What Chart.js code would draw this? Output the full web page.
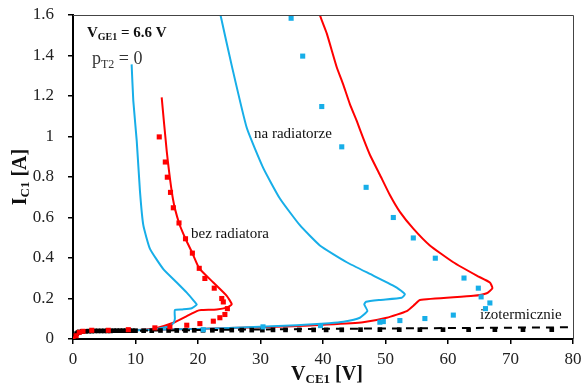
<!DOCTYPE html>
<html>
<head>
<meta charset="utf-8">
<script src="https://cdn.jsdelivr.net/npm/chart.js@4.4.1/dist/chart.umd.min.js"></script>
<style>
  html, body { margin: 0; padding: 0; background: #fff; }
  #wrap { width: 582px; height: 385px; }
</style>
</head>
<body>
<div id="wrap"><canvas id="myChart" width="582" height="385"></canvas></div>
<script>
// axis ticks
var xTicks = [0, 10, 20, 30, 40, 50, 60, 70, 80];
var yTicks = [0, 0.2, 0.4, 0.6, 0.8, 1, 1.2, 1.4, 1.6];

// simulation - bez radiatora (blue)
var bezBlueV = [0, 0.3, 0.6, 1, 2, 5, 8, 10.2, 12, 13.4, 14.8, 15.5, 16.1, 16.3, 16.3, 17.5, 19, 19.8, 19.3, 18.2, 16.6, 14.45, 12.32, 11.25, 10.72, 10.2, 9.65, 9.38];
var bezBlueI = [0, 0.015, 0.03, 0.038, 0.04, 0.041, 0.042, 0.043, 0.046, 0.05, 0.058, 0.063, 0.08, 0.1, 0.143, 0.146, 0.152, 0.17, 0.19, 0.229, 0.279, 0.345, 0.445, 0.562, 0.728, 0.977, 1.176, 1.356];

// simulation - bez radiatora (red)
var bezRedV = [0, 0.3, 0.6, 1, 2, 5, 8, 10.7, 13.4, 16.05, 18.2, 19.8, 20.5, 23, 24.6, 25.4, 24.6, 22.45, 20.2, 19.1, 18.0, 16.96, 16.0, 15.0, 14.19];
var bezRedI = [0, 0.015, 0.03, 0.038, 0.04, 0.041, 0.042, 0.044, 0.055, 0.08, 0.113, 0.138, 0.143, 0.146, 0.155, 0.171, 0.213, 0.279, 0.349, 0.424, 0.495, 0.573, 0.69, 0.927, 1.193];

// simulation - na radiatorze (blue)
var naBlueV = [0, 0.3, 0.6, 1, 2, 10, 20, 29.9, 35.8, 41, 43.25, 45.9, 47.1, 46.6, 46.9, 49.1, 52.6, 53.1, 51.8, 48.05, 43.8, 39.5, 36.3, 33.1, 30.45, 27.8, 25.4, 23.6, 23.4];
var naBlueI = [0, 0.015, 0.03, 0.038, 0.04, 0.044, 0.05, 0.06, 0.068, 0.078, 0.085, 0.105, 0.138, 0.171, 0.184, 0.193, 0.204, 0.221, 0.254, 0.313, 0.379, 0.462, 0.562, 0.694, 0.844, 1.043, 1.35, 1.6, 1.65];

// simulation - na radiatorze (red)
var naRedV = [0, 0.3, 0.6, 1, 2, 10, 20, 30, 35.2, 40.6, 46.4, 50.2, 53.4, 54.7, 55.5, 64.05, 66.2, 67.1, 66.7, 64.6, 60.85, 57.1, 54.45, 52.3, 50.7, 49.1, 47.5, 46.4, 45.4, 44.3, 43.2, 42.2, 40.6, 39.5, 39.3];
var naRedI = [0, 0.015, 0.03, 0.038, 0.04, 0.044, 0.05, 0.058, 0.063, 0.071, 0.083, 0.105, 0.138, 0.171, 0.193, 0.213, 0.226, 0.251, 0.279, 0.313, 0.379, 0.462, 0.545, 0.628, 0.711, 0.811, 0.91, 0.994, 1.077, 1.16, 1.26, 1.342, 1.509, 1.6, 1.65];

// measurements - bez radiatora
var measBezV = [0, 0.5, 1.0, 1.6, 3.0, 5.65, 8.85, 13.1, 15.5, 18.2, 20.3, 22.45, 23.5, 24.3, 24.7, 24.05, 23.8, 22.6, 21.1, 20.2, 19.1, 18.0, 16.96, 16.05, 15.6, 15.09, 14.77, 13.8];
var measBezI = [0, 0.016, 0.033, 0.038, 0.043, 0.043, 0.046, 0.055, 0.06, 0.068, 0.076, 0.088, 0.105, 0.121, 0.15, 0.183, 0.2, 0.251, 0.299, 0.349, 0.424, 0.495, 0.573, 0.648, 0.724, 0.799, 0.874, 0.998];

// measurements - na radiatorze
var measNaV = [20.85, 30.4, 39.6, 49.1, 49.65, 52.3, 56.3, 60.85, 66.0, 66.7, 65.3, 64.85, 62.56, 57.97, 54.45, 51.25, 46.9, 43.0, 39.8, 36.75, 34.9];
var measNaI = [0.046, 0.06, 0.066, 0.083, 0.086, 0.091, 0.101, 0.118, 0.150, 0.178, 0.208, 0.251, 0.301, 0.399, 0.499, 0.600, 0.749, 0.949, 1.148, 1.397, 1.584];

// izotermicznie - measurements
var isoV = [0, 0.2, 0.4, 0.6, 0.8, 1, 1.5, 2, 2.5, 3, 3.5, 4, 4.5, 5, 5.5, 6, 6.5, 7, 7.5, 8, 8.5, 9, 9.5, 10, 11.3, 12.6, 14, 15.3, 16.6, 18, 19.4, 20.8, 22.3, 23.8, 25.4, 27, 28.6, 30.3, 32, 34, 36.2, 38.5, 40.5, 43, 46, 49.1, 52.2, 55.5, 59.2, 63.3, 67.5, 72, 76.6];
var isoI = [0, 0.01, 0.02, 0.027, 0.032, 0.035, 0.037, 0.038, 0.039, 0.039, 0.04, 0.04, 0.04, 0.04, 0.04, 0.04, 0.041, 0.041, 0.041, 0.041, 0.041, 0.041, 0.041, 0.041, 0.041, 0.041, 0.042, 0.042, 0.042, 0.042, 0.043, 0.043, 0.043, 0.043, 0.044, 0.044, 0.044, 0.044, 0.045, 0.045, 0.045, 0.045, 0.045, 0.045, 0.046, 0.046, 0.046, 0.046, 0.046, 0.046, 0.046, 0.046, 0.046];

// izotermicznie - simulation (dashed)
var isoLineV = [0, 0.5, 1, 2, 10, 20, 40, 60, 80];
var isoLineI = [0, 0.02, 0.033, 0.038, 0.041, 0.044, 0.05, 0.054, 0.058];

var BLUE = '#17aee8';
var RED = '#ff0000';
var SERIF = '"Liberation Serif", "Times New Roman", serif';

function pts(xs, ys) {
    var out = [];
    for (var i = 0; i < xs.length; i++) out.push({x: xs[i], y: ys[i]});
    return out;
}

function lineSet(xs, ys, color) {
    return {data: pts(xs, ys), showLine: true, borderColor: color, borderWidth: 2,
        pointRadius: 0, tension: 0.15, order: 5};
}

function markSet(xs, ys, color, r) {
    return {data: pts(xs, ys), showLine: false, pointStyle: 'rect', pointRadius: r,
        backgroundColor: color, borderColor: color, borderWidth: 0, order: 1};
}

// draw text with subscripts, parts = [text, font, dy]
function drawParts(ctx, x, y, parts, color) {
    ctx.fillStyle = color;
    ctx.textBaseline = 'alphabetic';
    ctx.textAlign = 'left';
    for (var i = 0; i < parts.length; i++) {
        ctx.font = parts[i][1];
        ctx.fillText(parts[i][0], x, y + parts[i][2]);
        x += ctx.measureText(parts[i][0]).width;
    }
}
function partsWidth(ctx, parts) {
    var w = 0;
    for (var i = 0; i < parts.length; i++) {
        ctx.font = parts[i][1];
        w += ctx.measureText(parts[i][0]).width;
    }
    return w;
}

var textPlugin = {
    id: 'texts',
    afterDraw: function (chart) {
        var ctx = chart.ctx;
        var a = chart.chartArea;
        ctx.save();
        // top and right frame
        ctx.strokeStyle = '#444';
        ctx.lineWidth = 1;
        ctx.beginPath();
        ctx.moveTo(a.left, a.top + 0.5);
        ctx.lineTo(a.right + 0.5, a.top + 0.5);
        ctx.lineTo(a.right + 0.5, a.bottom);
        ctx.stroke();

        var b20 = 'bold 20px ' + SERIF, b13 = 'bold 13px ' + SERIF;
        // x axis title
        var xt = [['V', b20, 0], ['CE1', b13, 3], [' [V]', b20, 0]];
        var w = partsWidth(ctx, xt);
        drawParts(ctx, (a.left + a.right) / 2 - w / 2 + 4, 380, xt, '#111');
        // y axis title
        var yt = [['I', b20, 0], ['C1', b13, 3], [' [A]', b20, 0]];
        w = partsWidth(ctx, yt);
        ctx.save();
        ctx.translate(26, (a.top + a.bottom) / 2);
        ctx.rotate(-Math.PI / 2);
        drawParts(ctx, -w / 2, 0, yt, '#111');
        ctx.restore();

        // annotations
        drawParts(ctx, 87, 37, [['V', 'bold 15px ' + SERIF, 0], ['GE1', 'bold 10px ' + SERIF, 3], [' = 6.6 V', 'bold 15px ' + SERIF, 0]], '#111');
        drawParts(ctx, 92, 64, [['p', '18px ' + SERIF, 0], ['T2', '12px ' + SERIF, 4], [' = 0', '18px ' + SERIF, 0]], '#333');
        var f15 = '15px ' + SERIF;
        drawParts(ctx, 254, 138, [['na radiatorze', f15, 0]], '#111');
        drawParts(ctx, 191, 238, [['bez radiatora', f15, 0]], '#111');
        drawParts(ctx, 480, 319, [['izotermicznie', f15, 0]], '#111');
        ctx.restore();
    }
};

var ctx = document.getElementById('myChart').getContext('2d');
var myChart = new Chart(ctx, {
    type: 'scatter',
    data: {
        datasets: [
            markSet(measBezV, measBezI, RED, 3.6),
            markSet(measNaV, measNaI, BLUE, 3.6),
            markSet(isoV, isoI, '#000', 3.3),
            lineSet(bezBlueV, bezBlueI, BLUE),
            lineSet(bezRedV, bezRedI, RED),
            lineSet(naBlueV, naBlueI, BLUE),
            lineSet(naRedV, naRedI, RED),
            {data: pts(isoLineV, isoLineI), showLine: true, borderColor: '#000', borderWidth: 2,
                borderDash: [8, 6], pointRadius: 0, order: 4}
        ]
    },
    options: {
        responsive: false,
        animation: false,
        devicePixelRatio: 1,
        layout: {padding: {top: 15, right: 9, left: 0, bottom: 0}},
        plugins: {legend: {display: false}, tooltip: {enabled: false}},
        scales: {
            x: {
                type: 'linear', min: 0, max: 80,
                afterBuildTicks: function (s) { s.ticks = xTicks.map(function (v) { return {value: v}; }); },
                afterFit: function (s) { s.height = 46; s.paddingLeft = 0; s.paddingRight = 0; },
                grid: {drawOnChartArea: false, drawTicks: true, tickLength: 5, color: '#000', lineWidth: 1.5},
                border: {display: true, color: '#000', width: 2},
                ticks: {color: '#222', padding: 5, maxRotation: 0, font: {family: SERIF, size: 17}}
            },
            y: {
                type: 'linear', min: 0, max: 1.6,
                afterBuildTicks: function (s) { s.ticks = yTicks.map(function (v) { return {value: v}; }); },
                afterFit: function (s) { s.width = 73; s.paddingTop = 0; s.paddingBottom = 0; },
                grid: {drawOnChartArea: false, drawTicks: true, tickLength: 5, color: '#000', lineWidth: 1.5},
                border: {display: true, color: '#000', width: 2},
                ticks: {color: '#222', padding: 14, font: {family: SERIF, size: 17},
                    callback: function (v) { return String(Math.round(v * 10) / 10); }}
            }
        }
    },
    plugins: [textPlugin]
});
</script>
</body>
</html>
